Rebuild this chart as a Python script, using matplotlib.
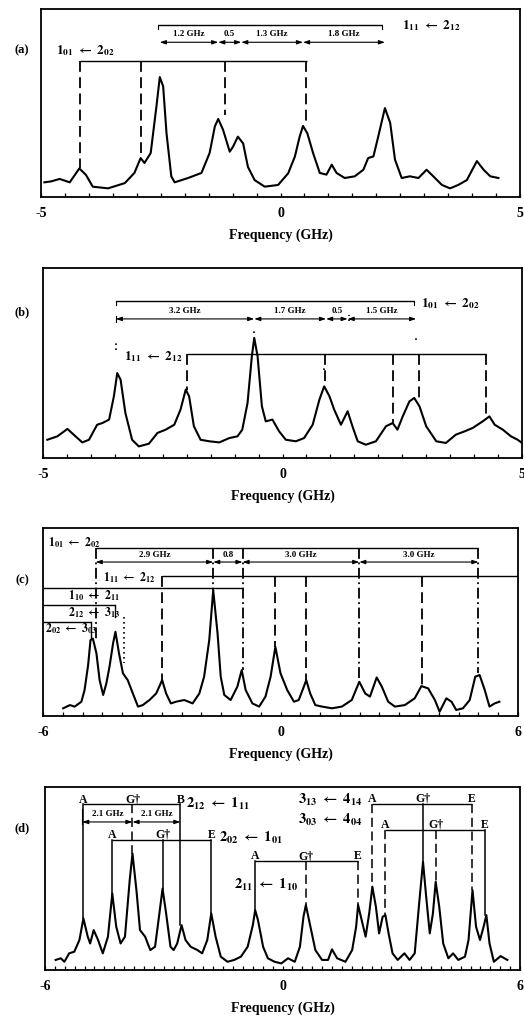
import matplotlib
matplotlib.use('Agg')
import matplotlib.pyplot as plt
from matplotlib.ticker import MultipleLocator

plt.rcParams['font.family'] = ['Liberation Serif', 'DejaVu Serif']
plt.rcParams['font.weight'] = 'bold'
plt.rcParams['mathtext.fontset'] = 'stix'

# ---------------- Panel (a) spectrum ----------------
a_freq = [-4.93, -4.79, -4.61, -4.40, -4.20, -4.06, -3.92, -3.60, -3.25, -3.05, -2.92, -2.84,
          -2.71, -2.59, -2.52, -2.45, -2.38, -2.28, -2.21, -1.93, -1.65, -1.48, -1.37, -1.30,
          -1.20, -1.06, -0.99, -0.89, -0.78, -0.68, -0.54, -0.33, -0.05, 0.16, 0.30, 0.40,
          0.47, 0.56, 0.68, 0.82, 0.96, 1.07, 1.17, 1.34, 1.55, 1.73, 1.83, 1.94, 2.04, 2.18,
          2.29, 2.39, 2.53, 2.70, 2.88, 3.05, 3.19, 3.37, 3.54, 3.71, 3.89, 4.10, 4.24, 4.38, 4.55]
a_int = [7.8, 8.3, 9.6, 7.8, 15.2, 11.7, 5.5, 4.6, 7.4, 12.8, 20.7, 18.1,
         23.4, 48.2, 63.8, 58.9, 34.0, 11.0, 7.8, 10.1, 12.8, 23.4, 37.6, 41.5,
         35.8, 24.1, 26.8, 32.1, 28.5, 16.0, 9.0, 5.5, 6.4, 12.6, 21.5, 32.1,
         37.8, 33.9, 23.4, 12.8, 11.9, 17.2, 12.8, 10.1, 11.0, 14.5, 20.7, 21.6, 32.1, 47.3,
         39.4, 19.9, 10.1, 11.0, 10.1, 14.5, 11.0, 6.4, 4.6, 6.4, 9.0, 19.1, 14.5, 11.0, 10.1]
a_lines_0102 = [-4.19, -2.92, -1.15, 0.54]          # 1_01 <- 2_02 assignments
a_drop_0102 = [15.4, 21.6, 43.8, 38.5]
a_bounds = [-2.52, -1.30, -0.82, 0.47, 2.18]         # splitting arrows
a_split_labels = ['1.2 GHz', '0.5', '1.3 GHz', '1.8 GHz']

# ---------------- Panel (b) spectrum ----------------
b_freq = [-4.91, -4.70, -4.49, -4.36, -4.18, -4.04, -3.87, -3.76, -3.62, -3.52, -3.45, -3.38,
          -3.28, -3.14, -3.00, -2.79, -2.61, -2.44, -2.26, -2.13, -2.02, -1.95, -1.85, -1.71,
          -1.53, -1.32, -1.11, -0.94, -0.84, -0.73, -0.64, -0.59, -0.52, -0.43, -0.35, -0.21,
          -0.07, 0.07, 0.28, 0.45, 0.63, 0.77, 0.87, 0.98, 1.08, 1.22, 1.36, 1.46, 1.57, 1.74,
          1.95, 2.16, 2.30, 2.40, 2.51, 2.65, 2.75, 2.86, 3.00, 3.21, 3.41, 3.62, 3.80, 3.97,
          4.18, 4.32, 4.43, 4.60, 4.77, 4.91, 5.00]
b_int = [9.6, 11.4, 15.3, 12.3, 8.2, 9.6, 17.5, 18.4, 20.2, 32.5, 44.7, 41.2,
         23.7, 9.6, 6.1, 7.5, 13.2, 14.9, 17.5, 25.4, 36.0, 32.5, 16.7, 9.6,
         8.8, 8.2, 10.5, 11.4, 14.9, 28.9, 53.5, 63.2, 53.5, 27.2, 19.3, 20.2,
         14.0, 9.6, 8.8, 10.5, 17.5, 30.7, 37.7, 32.5, 25.4, 17.5, 24.6, 16.7, 8.8, 7.0,
         8.8, 16.7, 18.4, 14.9, 21.9, 29.8, 31.6, 27.2, 16.7, 8.8, 7.9, 12.3, 14.0, 15.8,
         19.3, 21.9, 17.5, 14.9, 11.4, 9.6, 7.9]
b_lines_1112 = [-1.99, 0.89, 2.31, 2.84, 4.25]       # 1_11 <- 2_12 assignments
b_drop_1112 = [36.0, 37.7, 18.4, 31.6, 21.9]
b_bounds = [-3.48, -0.59, 0.91, 1.36, 2.79]
b_split_labels = ['3.2 GHz', '1.7 GHz', '0.5', '1.5 GHz']
b_dots = [-3.48, -0.59, 0.87, 1.38, 2.79]
b_dot_lo = [57.0, 65.8, 46.1, 71.9, 62.3]
b_dot_hi = [62.3, 67.5, 48.6, 75.4, 64.0]

# ---------------- Panel (c) spectrum ----------------
c_freq = [-5.49, -5.32, -5.20, -5.03, -4.95, -4.86, -4.80, -4.74, -4.65, -4.57, -4.48, -4.40,
          -4.32, -4.23, -4.17, -4.08, -3.98, -3.86, -3.73, -3.60, -3.48, -3.31, -3.14, -2.99,
          -2.89, -2.77, -2.64, -2.43, -2.22, -2.05, -1.93, -1.80, -1.70, -1.59, -1.51, -1.42,
          -1.26, -1.09, -0.98, -0.88, -0.71, -0.54, -0.38, -0.25, -0.13, 0.00, 0.17, 0.34,
          0.46, 0.59, 0.65, 0.75, 0.88, 1.05, 1.30, 1.55, 1.80, 1.99, 2.14, 2.26, 2.43, 2.56,
          2.72, 2.89, 3.14, 3.39, 3.56, 3.73, 3.90, 4.02, 4.19, 4.32, 4.44, 4.61, 4.78, 4.92,
          5.03, 5.16, 5.28, 5.41, 5.53]
c_int = [4.1, 5.8, 5.0, 7.6, 13.8, 27.1, 40.4, 41.2, 33.3, 19.1, 11.2, 17.3,
         26.2, 38.6, 44.8, 33.3, 22.7, 19.1, 12.0, 5.0, 5.8, 8.5, 12.0, 19.1,
         12.0, 6.7, 7.6, 8.5, 6.7, 12.0, 20.9, 40.4, 66.9, 43.9, 20.9, 11.2,
         8.5, 15.6, 24.4, 13.8, 6.7, 5.0, 10.3, 20.9, 36.8, 22.7, 13.8, 7.6,
         8.5, 15.6, 19.1, 12.0, 5.8, 5.0, 4.1, 5.0, 8.5, 18.2, 12.0, 10.3, 20.5, 15.6,
         7.6, 5.0, 5.8, 9.4, 15.9, 14.7, 8.5, 2.3, 9.4, 7.6, 3.2, 4.1, 8.5, 20.9,
         21.8, 13.8, 5.0, 6.7, 7.6]
c_lines_0102 = [-4.67, -1.70, -0.96, 1.99, 5.00]
c_drop_0102 = [41.2, 66.9, 24.4, 19.1, 22.7]
c_lines_1112 = [-2.99, -0.13, 0.65, 3.58]
c_drop_1112 = [19.1, 36.8, 19.1, 16.5]
c_bounds = [-4.67, -1.70, -0.96, 1.99, 5.00]
c_split_labels = ['2.9 GHz', '0.8', '3.0 GHz', '3.0 GHz']

# ---------------- Panel (d) spectrum ----------------
d_freq = [-5.73, -5.60, -5.51, -5.39, -5.26, -5.13, -5.03, -4.92, -4.86, -4.77, -4.66, -4.54,
          -4.41, -4.30, -4.20, -4.09, -3.98, -3.86, -3.79, -3.69, -3.60, -3.47, -3.34, -3.22,
          -3.11, -3.03, -2.94, -2.83, -2.75, -2.66, -2.55, -2.45, -2.32, -2.15, -2.03, -1.90,
          -1.80, -1.69, -1.56, -1.39, -1.22, -1.05, -0.88, -0.75, -0.69, -0.62, -0.49, -0.37,
          -0.20, -0.03, 0.14, 0.31, 0.44, 0.53, 0.59, 0.67, 0.83, 1.00, 1.15, 1.25, 1.38, 1.59,
          1.76, 1.86, 1.91, 2.00, 2.10, 2.19, 2.27, 2.36, 2.44, 2.53, 2.60, 2.68, 2.78, 2.91,
          3.08, 3.21, 3.34, 3.46, 3.55, 3.63, 3.72, 3.80, 3.87, 3.96, 4.06, 4.19, 4.31, 4.44,
          4.61, 4.70, 4.80, 4.89, 4.99, 5.08, 5.15, 5.23, 5.34, 5.51, 5.68]
d_int = [5.5, 6.4, 4.5, 9.1, 10.0, 16.4, 28.2, 18.2, 14.5, 21.8, 16.4, 9.1,
         18.2, 41.8, 23.6, 14.5, 18.2, 49.1, 63.6, 43.6, 21.8, 18.2, 10.9, 12.7,
         30.9, 44.5, 30.9, 12.7, 10.9, 14.5, 24.5, 16.4, 12.7, 10.9, 9.1, 16.4,
         30.9, 18.2, 7.3, 4.5, 5.5, 7.3, 12.7, 24.5, 32.7, 27.3, 12.7, 6.4,
         4.5, 3.6, 6.4, 4.5, 12.7, 29.1, 35.5, 27.3, 10.9, 5.5, 5.5, 11.3, 6.4, 4.5,
         10.9, 23.6, 35.5, 27.3, 18.2, 30.9, 45.5, 34.5, 20.0, 29.1, 30.0, 20.0, 9.1, 5.5,
         9.1, 5.5, 9.1, 38.2, 59.1, 40.0, 20.0, 30.9, 48.2, 34.5, 14.5, 6.4, 9.1, 5.5,
         7.3, 16.4, 43.6, 23.6, 16.4, 23.6, 30.0, 14.5, 4.5, 7.6, 5.5]
# A, G-dagger, E components for each rotational transition
d_2121_x = [-5.03, -3.79, -2.58]
d_2121_drop = [28.2, 63.6, 24.5]
d_2021_x = [-4.30, -3.03, -1.80]
d_2021_drop = [41.8, 44.5, 30.9]
d_2111_x = [-0.69, 0.59, 1.91]
d_2111_drop = [32.7, 35.5, 35.5]
d_3134_x = [2.27, 3.55, 4.78]
d_3134_drop = [45.5, 59.1, 43.6]
d_3034_x = [2.60, 3.87, 5.12]
d_3034_drop = [30.0, 48.2, 30.0]
d_bounds = [-5.06, -3.79, -2.58]
d_split_labels = ['2.1 GHz', '2.1 GHz']

W, H = 524, 1016
fig = plt.figure(figsize=(W / 100, H / 100), dpi=100)


def make_ax(left, top, right, bottom, lim, minor, tag, tag_y):
    ax = fig.add_axes([left / W, 1 - bottom / H, (right - left) / W, (bottom - top) / H])
    ax.set_xlim(-lim, lim)
    ax.set_ylim(0, 100)
    ax.set_yticks([])
    ax.set_xticks([-lim, 0, lim])
    ax.set_xticklabels(['-%d' % lim, '0', '%d' % lim], fontsize=10, fontweight='bold')
    ax.xaxis.set_minor_locator(MultipleLocator(minor))
    ax.tick_params(axis='x', which='both', direction='in', length=3, width=0.9, top=False)
    ax.tick_params(axis='x', which='major', pad=7)
    ax.set_xlabel('Frequency (GHz)', fontsize=10, fontweight='bold', labelpad=6)
    for s in ax.spines.values():
        s.set_linewidth(1.3)
    fig.text(22 / W, 1 - tag_y / H, tag, fontsize=9, fontweight='bold', ha='center', va='center')
    return ax


def tlabel(a, sa, b, sb):
    return (r'$\mathbf{%s}_{\mathbf{%s}}\ \leftarrow\ \mathbf{%s}_{\mathbf{%s}}$' % (a, sa, b, sb))


def hline(ax, x0, x1, y, lw=1.0):
    ax.plot([x0, x1], [y, y], color='k', lw=lw, solid_capstyle='butt')


def vdrop(ax, x, y0, y1, ls='--', lw=1.3):
    if ls == '--':
        ax.plot([x, x], [y0, y1], color='k', lw=lw, dashes=(6, 3))
    elif ls == '-.':
        ax.plot([x, x], [y0, y1], color='k', lw=lw, dashes=(6, 2, 1, 2))
    elif ls == ':':
        ax.plot([x, x], [y0, y1], color='k', lw=lw, dashes=(1, 2))
    else:
        ax.plot([x, x], [y0, y1], color='k', lw=lw)


def arrows(ax, bounds, y, labels, ylab, fs=6.5):
    for i in range(len(bounds) - 1):
        ax.annotate('', xy=(bounds[i + 1], y), xytext=(bounds[i], y),
                    arrowprops=dict(arrowstyle='<|-|>,head_length=0.35,head_width=0.12',
                                    lw=0.8, color='k', shrinkA=0, shrinkB=0))
        ax.text((bounds[i] + bounds[i + 1]) / 2, ylab, labels[i], fontsize=fs,
                fontweight='bold', ha='center', va='center')


# ================= (a) =================
ax = make_ax(41, 9, 520, 197, 5, 0.5, '(a)', 50)
ax.plot(a_freq, a_int, color='k', lw=1.5)
hline(ax, a_lines_0102[0], 0.56, 72.5)
for x, d in zip(a_lines_0102, a_drop_0102):
    vdrop(ax, x, 72.5, d)
hline(ax, -2.56, 2.11, 91.7)
vdrop(ax, -2.56, 91.7, 89.5, ls='-', lw=0.8)
vdrop(ax, 2.11, 91.7, 89.5, ls='-', lw=0.8)
arrows(ax, a_bounds, 82.3, a_split_labels, 86.6)
ax.text(2.53, 91.0, tlabel('1', '11', '2', '12'), fontsize=9.5, ha='left', va='center')
ax.text(-4.68, 78.0, tlabel('1', '01', '2', '02'), fontsize=9.5, ha='left', va='center')

# ================= (b) =================
ax = make_ax(43, 268, 522, 458, 5, 0.5, '(b)', 312)
ax.plot(b_freq, b_int, color='k', lw=1.5)
hline(ax, b_bounds[0], 2.75, 82.8)
vdrop(ax, b_bounds[0], 82.8, 80.5, ls='-', lw=0.8)
vdrop(ax, 2.75, 82.8, 80.5, ls='-', lw=0.8)
arrows(ax, b_bounds, 73.2, b_split_labels, 77.4)
vdrop(ax, b_bounds[0], 71.5, 75.0, ls='-', lw=0.8)
for x, lo, hi in zip(b_dots, b_dot_lo, b_dot_hi):
    vdrop(ax, x, lo, hi, ls=':', lw=1.2)
hline(ax, b_lines_1112[0], b_lines_1112[-1], 54.9)
for x, d in zip(b_lines_1112, b_drop_1112):
    vdrop(ax, x, 54.9, d)
ax.text(-3.31, 53.5, tlabel('1', '11', '2', '12'), fontsize=9.5, ha='left', va='center')
ax.text(2.89, 81.5, tlabel('1', '01', '2', '02'), fontsize=9.5, ha='left', va='center')

# ================= (c) =================
ax = make_ax(43, 528, 518, 716, 6, 0.5, '(c)', 580)
ax.plot(c_freq, c_int, color='k', lw=1.5)
hline(ax, c_lines_0102[0], c_lines_0102[-1], 89.4)
for x, d in zip(c_lines_0102, c_drop_0102):
    vdrop(ax, x, 89.4, d, ls='-.')
arrows(ax, c_bounds, 81.9, c_split_labels, 85.7)
hline(ax, c_lines_1112[0], 6.0, 74.5)
for x, d in zip(c_lines_1112, c_drop_1112):
    vdrop(ax, x, 74.5, d)
hline(ax, -6.0, -0.96, 68.3)
hline(ax, -6.0, -4.19, 58.9)
vdrop(ax, -4.19, 58.9, 52.7, ls='-', lw=1.0)
hline(ax, -6.0, -4.80, 50.1)
vdrop(ax, -4.80, 50.1, 41.2, ls='-', lw=1.0)
vdrop(ax, -3.96, 52.7, 28.0, ls=':', lw=1.2)
ax.text(-5.87, 92.2, tlabel('1', '01', '2', '02'), fontsize=8.5, ha='left', va='center')
ax.text(-4.48, 73.5, tlabel('1', '11', '2', '12'), fontsize=8.5, ha='left', va='center')
ax.text(-5.36, 64.0, tlabel('1', '10', '2', '11'), fontsize=8.5, ha='left', va='center')
ax.text(-5.36, 55.2, tlabel('2', '12', '3', '13'), fontsize=8.5, ha='left', va='center')
ax.text(-5.95, 46.4, tlabel('2', '02', '3', '03'), fontsize=8.5, ha='left', va='center')

# ================= (d) =================
ax = make_ax(45, 787, 520, 970, 6, 0.25, '(d)', 828)
ax.plot(d_freq, d_int, color='k', lw=1.5)


def group(ax, xs, drops, y, styles, lab, lab_x, lab_y):
    hline(ax, xs[0], xs[-1], y)
    for x, d, s in zip(xs, drops, styles):
        vdrop(ax, x, y, d, ls=s, lw=1.1)
    for x, c in zip(xs, ['A', 'G\u2020', lab[1]]):
        ax.text(x, y + 2.6, c, fontsize=8.5, fontweight='bold', ha='center', va='center')
    ax.text(lab_x, lab_y, lab[0], fontsize=10.5, ha='left', va='center')


group(ax, d_2121_x, d_2121_drop, 90.5, ['-', '--', '-'],
      (tlabel('2', '12', '1', '11'), 'B'), -2.45, 90.9)
group(ax, d_2021_x, d_2021_drop, 71.3, ['-', '-', '-'],
      (tlabel('2', '02', '1', '01'), 'E'), -1.60, 72.4)
group(ax, d_2111_x, d_2111_drop, 59.6, ['-', '--', '--'],
      (tlabel('2', '11', '1', '10'), 'E'), -1.22, 46.4)
group(ax, d_3134_x, d_3134_drop, 90.9, ['--', '-', '--'],
      (tlabel('3', '13', '4', '14'), 'E'), 0.40, 92.7)
group(ax, d_3034_x, d_3034_drop, 76.7, ['--', '--', '-'],
      (tlabel('3', '03', '4', '04'), 'E'), 0.40, 81.8)
arrows(ax, d_bounds, 80.9, d_split_labels, 85.1, fs=6.5)
vdrop(ax, d_bounds[0], 88.0, 80.0, ls='-', lw=0.8)

fig.savefig('out.png', dpi=100)
